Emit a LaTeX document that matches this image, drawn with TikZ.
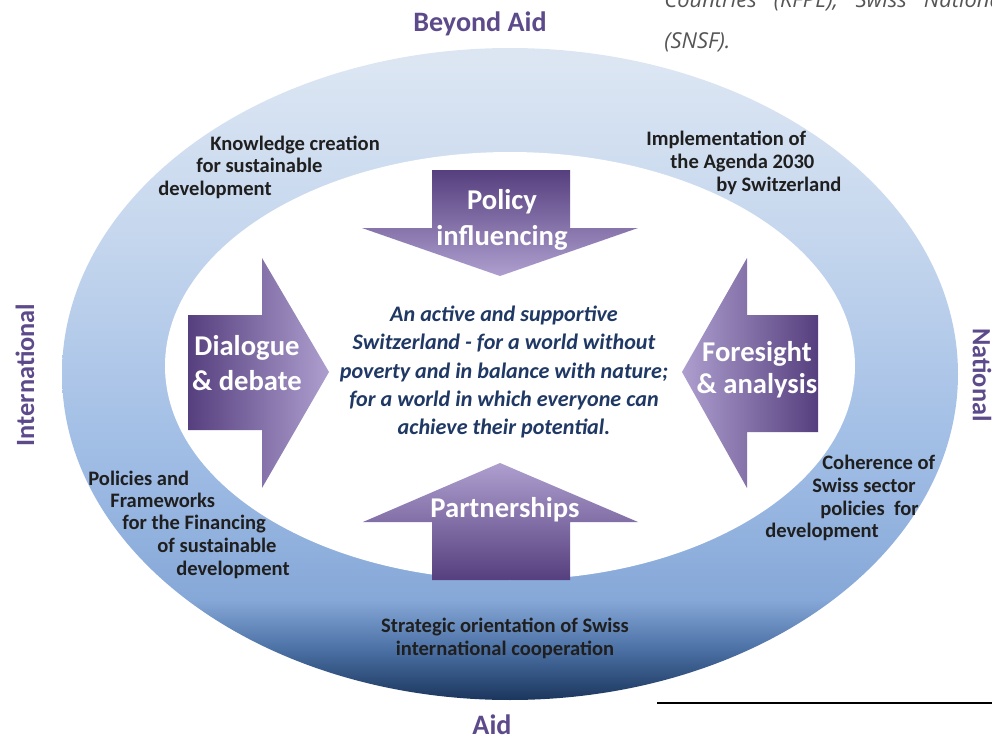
\documentclass[tikz,border=0pt]{standalone}
\usepackage{fontspec}
\setmainfont{Carlito}
\newfontfamily\notefont{Open Sans}
\definecolor{ringdark}{HTML}{1B365D}
\definecolor{ringdeep}{HTML}{4A6FA3}
\definecolor{ringlow}{HTML}{86A8D8}
\definecolor{ringmid}{HTML}{A0BDE5}
\definecolor{ringhigh}{HTML}{C3D5ED}
\definecolor{ringtop}{HTML}{DCE6F3}
\definecolor{arrowdark}{HTML}{563F7E}
\definecolor{arrowmid}{HTML}{5F3DA8}
\definecolor{arrowlight}{HTML}{AE9FCF}
\definecolor{outertext}{HTML}{5C4A8A}
\definecolor{centertext}{HTML}{1F3864}
\definecolor{notegray}{HTML}{555555}
\pgfdeclareverticalshading{ringshade}{100bp}{color(0bp)=(ringdark); color(25bp)=(ringdark); color(28.8bp)=(ringdeep); color(32.7bp)=(ringlow); color(44bp)=(ringmid); color(59.5bp)=(ringhigh); color(74bp)=(ringtop); color(100bp)=(ringtop)}
\tikzset{
  ringlabel/.style={font=\fontsize{11.7}{13}\selectfont\bfseries, text=black!88, inner sep=0pt},
  arrowlabel/.style={font=\fontsize{16.3}{20.4}\selectfont\bfseries, text=white, align=center, inner sep=0pt},
  outerlabel/.style={font=\fontsize{16}{19}\selectfont\bfseries, text=outertext, inner sep=0pt},
}
\begin{document}
\begin{tikzpicture}[x=0.02cm, y=-0.02cm, line join=round]
	\useasboundingbox (0,0) rectangle (992,737);
	\clip (0,0) rectangle (992,737);
	
	% ring and inner field
	\shade[shading=ringshade] (510,374) ellipse [x radius=448, y radius=326];
	\fill[white] (510,366) ellipse [x radius=345, y radius=214];
	
	% four arrows
	\shade[top color=arrowdark, middle color=arrowmid, bottom color=arrowlight]
		(432,170) -- (570,170) -- (570,228) -- (638,228) -- (500,276) -- (362,228) -- (432,228) -- cycle;
	\shade[top color=arrowlight, middle color=arrowmid, bottom color=arrowdark]
		(432,580) -- (570,580) -- (570,522) -- (638,522) -- (500,463) -- (363,522) -- (432,522) -- cycle;
	\shade[left color=arrowdark, middle color=arrowmid, right color=arrowlight]
		(188,315) -- (262,315) -- (262,258) -- (329,372) -- (262,488) -- (262,430) -- (188,430) -- cycle;
	\shade[left color=arrowlight, middle color=arrowmid, right color=arrowdark]
		(818,315) -- (747,315) -- (747,258) -- (682,372) -- (747,488) -- (747,432) -- (818,432) -- cycle;
	
	\node[arrowlabel] (policy) at (502,220) {Policy\\influencing};
	\node[arrowlabel] (partner) at (505,510) {Partnerships};
	\node[arrowlabel] (dialogue) at (247,363) {Dialogue\\\& debate};
	\node[arrowlabel, font=\fontsize{16.3}{18.2}\selectfont\bfseries] (foresight) at (757,370) {Foresight\\\& analysis};
	
	% vision
	\node[font=\fontsize{12.6}{16.2}\selectfont\bfseries\itshape, text=centertext, align=center] (vision) at (504,372)
		{An active and supportive\\Switzerland - for a world without\\poverty and in balance with nature;\\for a world in which everyone can\\achieve their potential.};
	
	% labels in the ring
	\foreach \n/\x/\y/\t in {k1/210/150/Knowledge creation, k2/196/173/for sustainable, k3/158/195/development,
		a1/646/145/Implementation of, a2/670/168/the Agenda 2030, a3/716/191/by Switzerland,
		f1/88/485/Policies and, f2/110/507/Frameworks, f3/122/529/for the Financing, f4/157/552/of sustainable, f5/176/575/development,
		c1/822/469/Coherence of, c2/812/492/Swiss sector, c3/820/515/policies\ \ for, c4/765/537/development} {
		\node[ringlabel, anchor=base west] (\n) at (\x,\y) {\t};
	}
	\node[ringlabel, align=center] (strategic) at (505,638) {Strategic orientation of Swiss\\international cooperation};
	
	% outer labels
	\node[outerlabel] (beyond) at (480,24) {Beyond Aid};
	\node[outerlabel] (aid) at (492,725) {Aid};
	\node[outerlabel, font=\fontsize{15}{18}\selectfont\bfseries, rotate=90] (intl) at (25,375) {International};
	\node[outerlabel, font=\fontsize{15}{18}\selectfont\bfseries, rotate=-90] (natl) at (982,375) {National};
	
	% running text of the page
	\node[font=\notefont\fontsize{12.5}{15}\selectfont\itshape, text=notegray, anchor=base west, inner sep=0pt] (note1) at (664,8) {Countries\ \ \ (KFPE);\ \ \ Swiss\ \ \ National};
	\node[font=\notefont\fontsize{12.5}{15}\selectfont\itshape, text=notegray, anchor=base west, inner sep=0pt] (note2) at (664,49) {(SNSF).};
	\coordinate (rulestart) at (657,703);
	\coordinate (ruleend) at (992,703);
	\draw[line width=1.2pt] (rulestart) -- (ruleend);
\end{tikzpicture}
\end{document}
